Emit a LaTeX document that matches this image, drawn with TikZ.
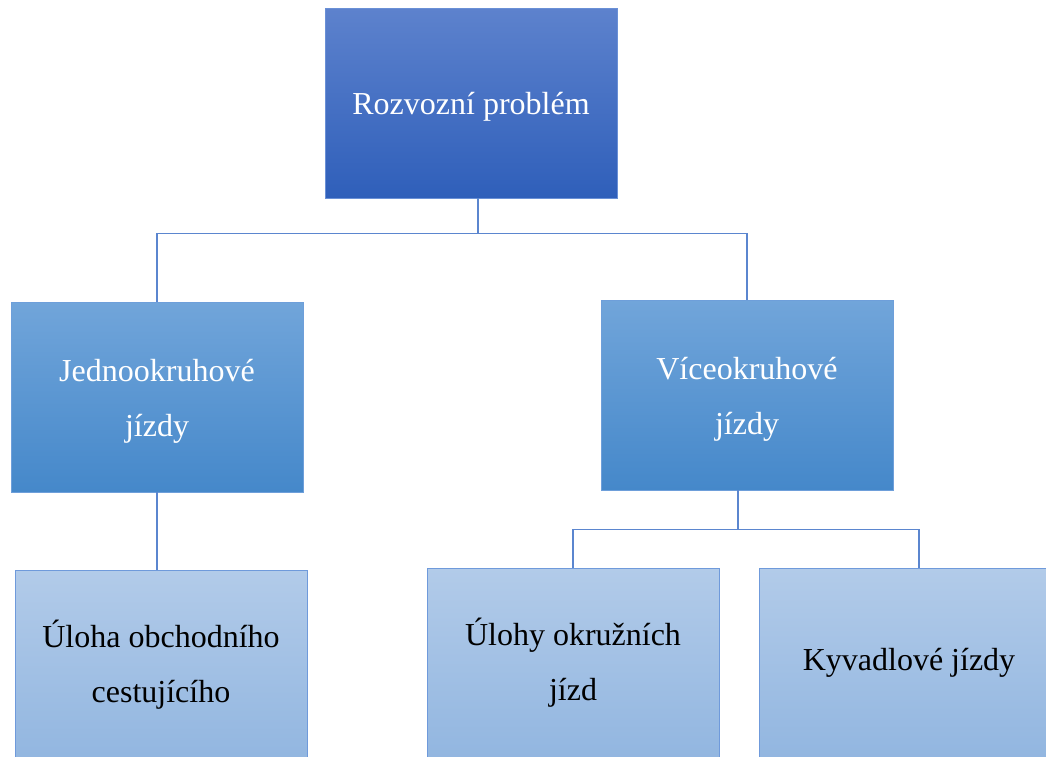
\documentclass[tikz,border=0pt]{standalone}
\usepackage{fontspec}
\setmainfont{Liberation Serif}
% invisible strut that lowers the text block a little inside its box
\newcommand{\boxstrut}{\rule{0pt}{30pt}}
\begin{document}
\begin{tikzpicture}[x=1pt,y=-1pt,
  box/.style={rectangle, minimum width=292pt, minimum height=190pt, inner sep=0pt,
    align=center, font=\fontsize{32}{55}\selectfont, line width=0.9pt},
  lvlA/.style={box, draw=boxedgeA, top color=topA1, bottom color=topA2, text=white},
  lvlB/.style={box, draw=boxedgeB, top color=midB1, bottom color=midB2, text=white},
  lvlC/.style={box, draw=boxedgeC, top color=lowC1, bottom color=lowC2, text=black},
  link/.style={draw=linkblue, line width=1.1pt}]
\definecolor{topA1}{HTML}{5D82CD}
\definecolor{topA2}{HTML}{2F5FBA}
\definecolor{boxedgeA}{HTML}{6A90D6}
\definecolor{midB1}{HTML}{71A5DA}
\definecolor{midB2}{HTML}{4588CA}
\definecolor{boxedgeB}{HTML}{6E9FDA}
\definecolor{lowC1}{HTML}{B2CBE9}
\definecolor{lowC2}{HTML}{92B6E0}
\definecolor{boxedgeC}{HTML}{6F9ADB}
\definecolor{linkblue}{HTML}{5B86CF}
\clip (0,0) rectangle (1046,756);
\useasboundingbox (0,0) rectangle (1046,756);

\node[lvlA] (root) at (471,103) {\boxstrut Rozvozní problém};
\node[lvlB] (single) at (157,397) {\boxstrut Jednookruhové\\jízdy};
\node[lvlB] (multi) at (747,395) {\boxstrut Víceokruhové\\jízdy};
\node[lvlC] (tsp) at (161,665) {Úloha obchodního\\cestujícího};
\node[lvlC] (circ) at (573,663) {Úlohy okružních\\jízd};
\node[lvlC, minimum width=300pt] (shut) at (909,663) {Kyvadlové jízdy};

% root to second level
\draw[link] ([xshift=7pt]root.south) -- ++(0,35) coordinate (rj);
\draw[link] (rj) -| (single.north);
\draw[link] (rj) -| (multi.north);
% single-route branch
\draw[link] (single.south) -- (single.south |- tsp.north);
% multi-route branch
\draw[link] ([xshift=-9pt]multi.south) -- ++(0,39) coordinate (mj);
\draw[link] (mj) -| (circ.north);
\draw[link] (mj) -| ([xshift=10pt]shut.north);
\end{tikzpicture}
\end{document}
